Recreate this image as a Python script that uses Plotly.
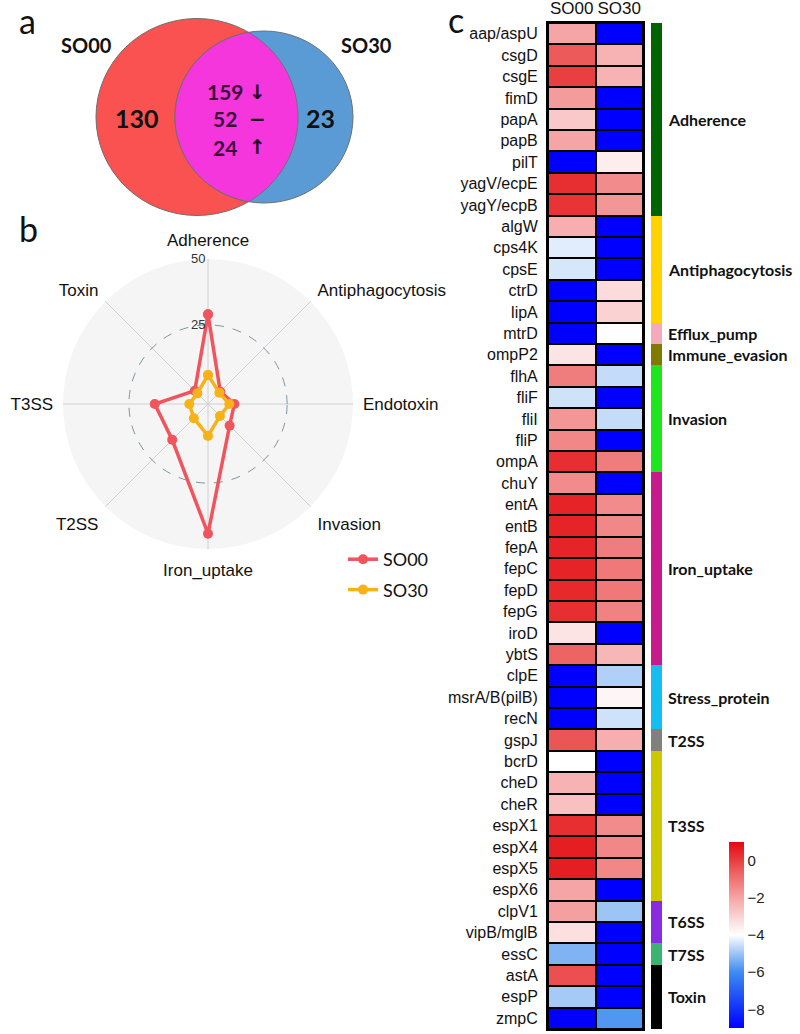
import numpy as np
import plotly.graph_objects as go

W, H = 800, 1034

# ---------------- data ----------------
venn_sets = ["SO00", "SO30"]
venn_only = [130, 23]
venn_shared_counts = [159, 52, 24]
venn_shared_marks = ["↓", "−", "↑"]

radar_axes = ["Adherence", "Antiphagocytosis", "Endotoxin", "Invasion",
              "Iron_uptake", "T2SS", "T3SS", "Toxin"]
radar_so00 = [29, 1.6, 5, 6.6, 44.2, 14.2, 15.2, 2.1]
radar_so30 = [6, 1.1, 3.1, 1.4, 7.1, 2.6, 2.1, 0.7]

genes = ["aap/aspU", "csgD", "csgE", "fimD", "papA", "papB", "pilT", "yagV/ecpE", "yagY/ecpB",
         "algW", "cps4K", "cpsE", "ctrD", "lipA",
         "mtrD", "ompP2",
         "flhA", "fliF", "fliI", "fliP", "ompA",
         "chuY", "entA", "entB", "fepA", "fepC", "fepD", "fepG", "iroD", "ybtS",
         "clpE", "msrA/B(pilB)", "recN", "gspJ",
         "bcrD", "cheD", "cheR", "espX1", "espX4", "espX5", "espX6",
         "clpV1", "vipB/mglB", "essC", "astA", "espP", "zmpC"]
so00 = [-2.0, -0.5, 0.0, -1.8, -2.8, -2.0, -9.0, 0.3, 0.2,
        -2.2, -4.3, -4.4, -9.0, -9.0,
        -9.0, -3.4,
        -1.2, -4.5, -1.7, -1.4, 0.3,
        -1.5, 0.5, 0.5, 0.5, 0.5, 0.4, 0.3, -3.4, -0.7,
        -9.0, -9.0, -9.0, -0.4,
        -4.0, -2.3, -2.6, 0.3, 0.6, 0.6, -2.0,
        -1.9, -3.3, -5.3, -0.3, -4.9, -9.0]
so30 = [-9.0, -2.3, -2.3, -9.0, -9.0, -9.0, -3.6, -1.5, -1.7,
        -9.0, -9.0, -9.0, -3.2, -3.0,
        -4.0, -9.0,
        -4.6, -9.0, -4.6, -9.0, -1.2,
        -9.0, -1.5, -1.4, -1.2, -1.1, -1.1, -1.3, -9.0, -2.4,
        -4.8, -3.8, -4.5, -2.2,
        -9.0, -9.0, -9.0, -1.5, -1.4, -1.4, -9.0,
        -5.0, -9.0, -9.0, -9.0, -9.0, -5.8]
group_names = ["Adherence", "Antiphagocytosis", "Efflux_pump", "Immune_evasion", "Invasion",
               "Iron_uptake", "Stress_protein", "T2SS", "T3SS", "T6SS", "T7SS", "Toxin"]
group_sizes = [9, 5, 1, 1, 5, 9, 3, 1, 7, 2, 1, 3]
group_colors = ["#006400", "#FFD200", "#F5A9BC", "#7F7A00", "#1EE61E", "#C71A8C",
                "#14BEF0", "#808080", "#CCC800", "#8A2BE2", "#3CB371", "#000000"]
cbar_ticks = [0, -2, -4, -6, -8]

# ---------------- helpers ----------------
def px(x):
    return x / W

def py(y):
    return 1 - y / H

fig = go.Figure()

# ---------------- Panel c: heatmap ----------------
zmat = [[a, b] for a, b in zip(so00, so30)]
fig.add_trace(go.Heatmap(
    z=zmat, x=venn_sets, y=genes, xaxis="x", yaxis="y",
    zmin=-9, zmax=1, xgap=2, ygap=2,
    colorscale=[[0, "#0000FF"], [0.1, "#1030F8"], [0.3, "#3C8CF2"], [0.4, "#9CC4F5"],
                [0.5, "#FFFFFF"], [0.7, "#F5A5A5"], [0.85, "#EC5A5A"], [1, "#E3080E"]],
    colorbar=dict(x=px(729), xanchor="left", y=py(1028), yanchor="bottom",
                  len=186, lenmode="pixels", thickness=15, thicknessmode="pixels",
                  xpad=0, ypad=0,
                  outlinewidth=0, tickvals=cbar_ticks, ticks="",
                  tickfont=dict(family="Liberation Sans", size=15, color="#222")),
    showscale=True, hoverinfo="skip"))

group_idx = []
for gi, n in enumerate(group_sizes):
    group_idx += [gi] * n
ng = len(group_names)
cs = []
for gi, c in enumerate(group_colors):
    cs.append([gi / ng, c])
    cs.append([(gi + 1) / ng, c])
fig.add_trace(go.Heatmap(
    z=[[g] for g in group_idx], x=["grp"], y=genes, xaxis="x2", yaxis="y",
    zmin=-0.5, zmax=ng - 0.5, colorscale=cs, showscale=False, hoverinfo="skip"))

start = 0
for name, n in zip(group_names, group_sizes):
    fig.add_annotation(x=px(666), xref="paper", xanchor="left",
                       y=start + (n - 1) / 2, yref="y", yanchor="middle",
                       text="<b>%s</b>" % name, showarrow=False,
                       font=dict(family="Lato", size=16, color="#111"))
    start += n

# ---------------- Panel b: radar ----------------
fig.add_trace(go.Scatterpolar(
    r=radar_so00 + radar_so00[:1], theta=radar_axes + radar_axes[:1],
    mode="lines+markers", name="SO00", legendgroup="a",
    line=dict(color="#F0545C", width=3.5), marker=dict(size=10, color="#F0545C")))
fig.add_trace(go.Scatterpolar(
    r=radar_so30 + radar_so30[:1], theta=radar_axes + radar_axes[:1],
    mode="lines+markers", name="SO30", legendgroup="b",
    line=dict(color="#F7B217", width=3.5), marker=dict(size=10, color="#F7B217")))

# ---------------- Panel a: Venn ----------------
red_c, red_r = (197, 117), (101, 98.5)
blue_c, blue_r = (264, 117), (89, 86)

def ellipse_shape(c, r, color):
    return dict(type="circle", xref="paper", yref="paper",
                x0=px(c[0] - r[0]), x1=px(c[0] + r[0]),
                y0=py(c[1] + r[1]), y1=py(c[1] - r[1]),
                fillcolor=color, line=dict(color="#6E6E6E", width=1))

t = np.linspace(0, 2 * np.pi, 721)
rx = red_c[0] + red_r[0] * np.cos(t); ry = red_c[1] + red_r[1] * np.sin(t)
bx = blue_c[0] + blue_r[0] * np.cos(t); by = blue_c[1] + blue_r[1] * np.sin(t)
in_blue = ((rx - blue_c[0]) / blue_r[0]) ** 2 + ((ry - blue_c[1]) / blue_r[1]) ** 2 <= 1
in_red = ((bx - red_c[0]) / red_r[0]) ** 2 + ((by - red_c[1]) / red_r[1]) ** 2 <= 1
lx = np.concatenate([rx[in_blue], bx[in_red]])
ly = np.concatenate([ry[in_blue], by[in_red]])
cx, cy = lx.mean(), ly.mean()
order = np.argsort(np.arctan2(ly - cy, lx - cx))
lx, ly = lx[order], ly[order]
path = "M " + " L ".join("%.5f,%.5f" % (px(a), py(b)) for a, b in zip(lx, ly)) + " Z"

shapes = [ellipse_shape(red_c, red_r, "#FA5151"),
          ellipse_shape(blue_c, blue_r, "#5B9BD5"),
          dict(type="path", xref="paper", yref="paper", path=path,
               fillcolor="#F536DC", line=dict(color="#6E6E6E", width=1))]

def txt(x, y, text, size, family="Lato", color="#111"):
    fig.add_annotation(x=px(x), y=py(y), xref="paper", yref="paper", showarrow=False,
                       xanchor="center", yanchor="middle", text=text,
                       font=dict(family=family, size=size, color=color))

txt(86, 45, "<b>%s</b>" % venn_sets[0], 20)
txt(366, 45, "<b>%s</b>" % venn_sets[1], 20)
txt(137, 118, "<b>%d</b>" % venn_only[0], 25)
txt(320, 118, "<b>%d</b>" % venn_only[1], 25)
for i, (n, m) in enumerate(zip(venn_shared_counts, venn_shared_marks)):
    yy = [92, 119, 147][i]
    txt(225, yy, "<b>%d</b>" % n, 21, color="#3A0C3A")
    txt(257, yy, "<b>%s</b>" % m, 20, family="DejaVu Sans", color="#1A061A")

# panel letters
for letter, (x, y) in zip(["a", "b", "c"], [(27, 21), (28, 228), (456, 20)]):
    txt(x, y, letter, 34)

fig.update_layout(
    width=W, height=H, margin=dict(l=0, r=0, t=0, b=0, autoexpand=False),
    paper_bgcolor="white", plot_bgcolor="black",
    shapes=shapes,
    xaxis=dict(domain=[px(548), px(643)], side="top", anchor="y",
               tickfont=dict(family="Liberation Sans", size=17, color="#111"),
               showline=True, mirror=True, linecolor="black", linewidth=2,
               showgrid=False, zeroline=False, ticks=""),
    yaxis=dict(domain=[py(1029), py(23)], anchor="x", autorange="reversed",
               tickfont=dict(family="Liberation Sans", size=16, color="#111"),
               showline=True, mirror=True, linecolor="black", linewidth=2,
               showgrid=False, zeroline=False, ticks="", ticklabelstandoff=5),
    xaxis2=dict(domain=[px(651), px(662)], anchor="y", visible=False),
    polar=dict(
        domain=dict(x=[px(63), px(353)], y=[py(549), py(259)]),
        bgcolor="#F5F5F5",
        angularaxis=dict(rotation=90, direction="clockwise", categoryorder="array",
                         categoryarray=radar_axes, showline=False,
                         ticks="outside", ticklen=6, tickcolor="rgba(0,0,0,0)",
                         gridcolor="#D0D0D0", gridwidth=1,
                         tickfont=dict(family="Liberation Sans", size=17, color="#111")),
        radialaxis=dict(range=[-5, 50], tickvals=[25, 50], showline=False, ticks="",
                        gridcolor="#7C97A3", griddash="dash", gridwidth=1, angle=90,
                        tickangle=90, side="counterclockwise",
                        tickfont=dict(family="Liberation Sans", size=13, color="#333"))),
    legend=dict(x=px(343), y=py(541), xanchor="left", yanchor="top",
                font=dict(family="Lato", size=18, color="#111"),
                tracegroupgap=4, bgcolor="rgba(0,0,0,0)"),
    showlegend=True,
)

fig.write_html("out.html", config={"displayModeBar": False},
               post_script="document.body.style.margin='0px';")
